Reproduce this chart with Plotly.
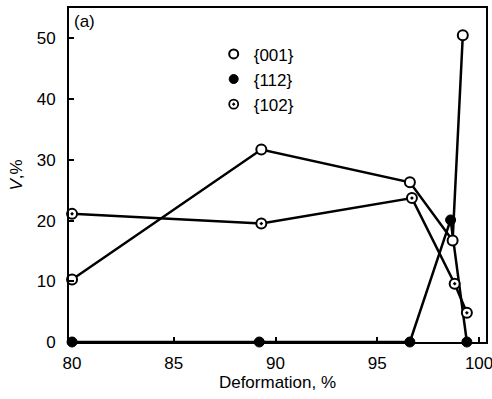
import plotly.graph_objects as go

# Data
x_001 = [80, 89.3, 96.6, 98.7, 99.2]
v_001 = [10.3, 31.7, 26.3, 16.7, 50.5]

x_112 = [80, 89.2, 96.6, 98.6, 99.4]
v_112 = [0, 0, 0, 20.1, 0]

x_102 = [80, 89.3, 96.7, 98.8, 99.4]
v_102 = [21.1, 19.5, 23.7, 9.6, 4.8]

series_names = ["{001}", "{112}", "{102}"]
x_ticks = [80, 85, 90, 95, 100]
y_ticks = [0, 10, 20, 30, 40, 50]

FONT = "Liberation Sans"
FS = 17
fig = go.Figure()

line_style = dict(color="black", width=2.5)

# {112} filled
fig.add_trace(go.Scatter(x=x_112, y=v_112, mode="lines+markers", line=line_style,
                         marker=dict(symbol="circle", size=10, color="black",
                                     line=dict(color="black", width=1)),
                         showlegend=False, cliponaxis=False))
# {102} dotted circle
fig.add_trace(go.Scatter(x=x_102, y=v_102, mode="lines+markers", line=line_style,
                         marker=dict(symbol="circle-dot", size=10, color="white",
                                     line=dict(color="black", width=2)),
                         showlegend=False, cliponaxis=False))
# {001} open
fig.add_trace(go.Scatter(x=x_001, y=v_001, mode="lines+markers", line=line_style,
                         marker=dict(symbol="circle", size=10, color="white",
                                     line=dict(color="black", width=2)),
                         showlegend=False, cliponaxis=False))

# legend entries (markers only)
legend_markers = [
    dict(symbol="circle", size=9, color="white", line=dict(color="black", width=2)),
    dict(symbol="circle", size=9, color="black", line=dict(color="black", width=1)),
    dict(symbol="circle-dot", size=9, color="white", line=dict(color="black", width=1.8)),
]
for name, mk in zip(series_names, legend_markers):
    fig.add_trace(go.Scatter(x=[None], y=[None], mode="markers", name=name, marker=mk,
                             showlegend=True))

fig.add_annotation(text="(a)", xref="paper", yref="paper", x=0.008, y=0.995,
                   xanchor="left", yanchor="top", showarrow=False,
                   font=dict(family=FONT, size=FS, color="black"))

axis_common = dict(showline=True, linecolor="black", linewidth=1.8, mirror=True,
                   ticks="inside", ticklen=5, tickcolor="black", tickwidth=1.5,
                   showgrid=False, zeroline=False, automargin=False,
                   ticklabeloverflow="allow",
                   tickfont=dict(family=FONT, size=FS, color="black"))

fig.update_xaxes(range=[79.85, 100.34], tickvals=x_ticks,
                 ticktext=[str(t) for t in x_ticks],
                 title=dict(text="Deformation, %", font=dict(family=FONT, size=FS, color="black"),
                            standoff=4),
                 ticklabelstandoff=5, **axis_common)
fig.update_yaxes(range=[0, 55], tickvals=y_ticks,
                 ticktext=[str(t) for t in y_ticks],
                 title=dict(text="<i>V</i>,%", font=dict(family=FONT, size=FS, color="black"),
                            standoff=10),
                 ticklabelstandoff=8, **axis_common)

fig.update_layout(
    width=492, height=399,
    margin=dict(l=69, r=6, t=8, b=57),
    paper_bgcolor="white", plot_bgcolor="white",
    font=dict(family=FONT, size=FS, color="black"),
    hovermode=False,
    legend=dict(x=0.347, y=0.915, xanchor="left", yanchor="top",
                bgcolor="rgba(0,0,0,0)", borderwidth=0,
                font=dict(family=FONT, size=FS, color="black")),
)

fig.write_html("out.html", config={"displayModeBar": False},
               post_script="document.body.style.margin='0';document.body.style.overflow='hidden';")
